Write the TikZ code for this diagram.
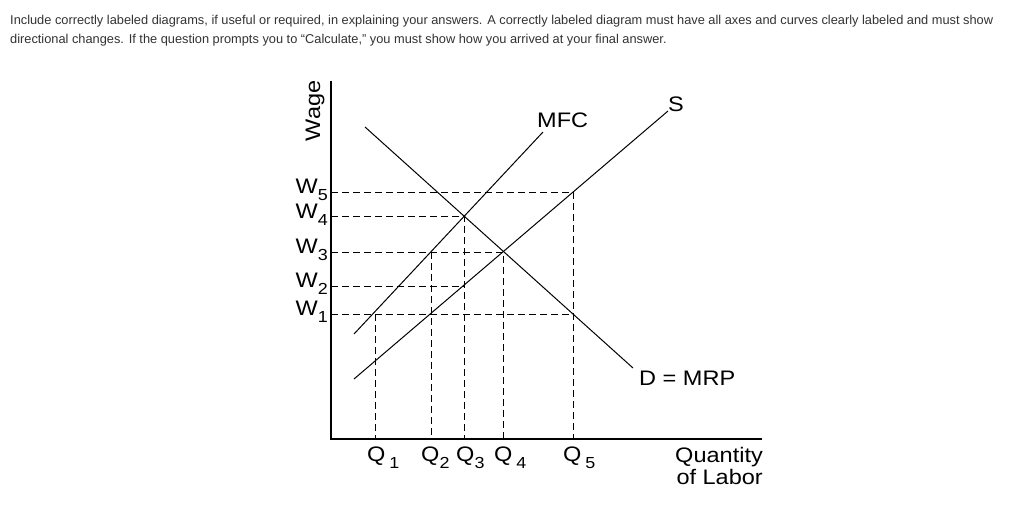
\documentclass[tikz,border=0pt]{standalone}
\usepackage{graphicx}
\usepackage{fontspec}
\setmainfont{Liberation Sans}
\definecolor{hdr}{HTML}{333333}
\newcommand\wide[1]{\scalebox{1.12}[1]{#1}}
\newcommand\sbs[1]{\raisebox{-7.5pt}{\fontsize{16}{16}\selectfont #1}}
\begin{document}
\begin{tikzpicture}[x=1pt,y=-1pt,
  lbl/.style={inner sep=0pt, font=\fontsize{21}{21}\selectfont},
  curve/.style={line width=1pt},
  guide/.style={line width=0.9pt, dash pattern=on 7pt off 4pt},
  axis/.style={line width=1.3pt}]
\useasboundingbox[fill=white] (0,0) rectangle (1024,508);
% header
\node[anchor=north west, inner sep=0pt, text=hdr, font=\fontsize{12.8}{19}\selectfont, align=left] (hdr) at (10,15)
 {Include correctly labeled diagrams, if useful or required, in explaining your answers. A correctly labeled diagram must have all axes and curves clearly labeled and must show\\directional changes. If the question prompts you to ``Calculate,'' you must show how you arrived at your final answer.};
% axes
\coordinate (top) at (331,81);
\coordinate (orig) at (331,439);
\coordinate (xend) at (762,439);
\draw[axis] (top) -- (orig) -- (xend);
% key points
\coordinate (w1) at (331,314); \coordinate (w2) at (331,286); \coordinate (w3) at (331,252);
\coordinate (w4) at (331,216); \coordinate (w5) at (331,192);
\coordinate (q1) at (375,439); \coordinate (q2) at (431,439); \coordinate (q3) at (464,439);
\coordinate (q4) at (503,439); \coordinate (q5) at (573,439);
\coordinate (p11) at (375,314); \coordinate (p23) at (431,252); \coordinate (p34) at (464,216);
\coordinate (p32) at (464,286); \coordinate (p43) at (503,252); \coordinate (p55) at (573,192);
\coordinate (p51) at (573,314);
% guides
\draw[guide] (w5) -- (p55) -- (q5);
\draw[guide] (w4) -- (p34) -- (q3);
\draw[guide] (w3) -- (p43) -- (q4);
\draw[guide] (w2) -- (p32);
\draw[guide] (w1) -- (p51);
\draw[guide] (p11) -- (q1);
\draw[guide] (p23) -- (q2);
% curves
\coordinate (mrpA) at (365,127); \coordinate (mrpB) at (633,368);
\coordinate (mfcA) at (354,334); \coordinate (mfcB) at (543,132);
\coordinate (sA) at (354,379); \coordinate (sB) at (668,111);
\draw[curve] (mrpA) -- (mrpB);
\draw[curve] (mfcA) -- (mfcB);
\draw[curve] (sA) -- (sB);
% labels
\node[lbl, rotate=90] (wage) at (315,111) {\wide{Wage}};
\node[lbl, anchor=base west] (mfc) at (537,127) {\wide{MFC}};
\node[lbl, anchor=base west] (s) at (668,112) {\wide{S}};
\node[lbl, anchor=base west] (mrp) at (639,385) {\wide{D = MRP}};
\node[lbl, anchor=base east] (lw5) at (328,193) {\wide{W\sbs{5}}};
\node[lbl, anchor=base east] (lw4) at (328,218) {\wide{W\sbs{4}}};
\node[lbl, anchor=base east] (lw3) at (328,253) {\wide{W\sbs{3}}};
\node[lbl, anchor=base east] (lw2) at (328,287) {\wide{W\sbs{2}}};
\node[lbl, anchor=base east] (lw1) at (328,315) {\wide{W\sbs{1}}};
\node[lbl, anchor=base west] (lq1) at (367,461) {\wide{Q\,\sbs{1}}};
\node[lbl, anchor=base west] (lq2) at (421,461) {\wide{Q\sbs{2}}};
\node[lbl, anchor=base west] (lq3) at (456,461) {\wide{Q\sbs{3}}};
\node[lbl, anchor=base west] (lq4) at (494,461) {\wide{Q\,\sbs{4}}};
\node[lbl, anchor=base west] (lq5) at (563,461) {\wide{Q\,\sbs{5}}};
\node[lbl, anchor=base east] (ql1) at (763,462) {\wide{Quantity}};
\node[lbl, anchor=base east] (ql2) at (763,484) {\wide{of Labor}};
\end{tikzpicture}
\end{document}
